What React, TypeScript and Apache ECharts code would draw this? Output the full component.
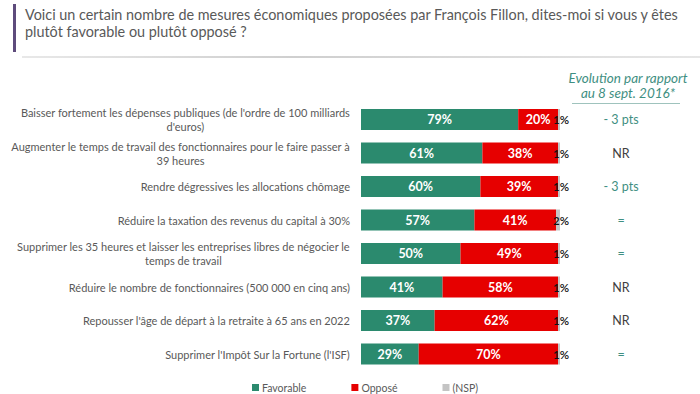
import React, { useEffect, useRef } from "react";
import * as echarts from "echarts";

const categories = [
  "Baisser fortement les dépenses publiques (de l'ordre de 100 milliards\nd'euros)",
  "Augmenter le temps de travail des fonctionnaires pour le faire passer à\n39 heures",
  "Rendre dégressives les allocations chômage",
  "Réduire la taxation des revenus du capital à 30%",
  "Supprimer les 35 heures et laisser les entreprises libres de négocier le\ntemps de travail",
  "Réduire le nombre de fonctionnaires (500 000 en cinq ans)",
  "Repousser l'âge de départ à la retraite à 65 ans en 2022",
  "Supprimer l'Impôt Sur la Fortune (l'ISF)",
];
const favorable = [79, 61, 60, 57, 50, 41, 37, 29];
const oppose = [20, 38, 39, 41, 49, 58, 62, 70];
const nsp = [1, 1, 1, 2, 1, 1, 1, 1];
const evolution = ["- 3 pts", "NR", "- 3 pts", "=", "=", "NR", "NR", "="];
const seriesNames = ["Favorable", "Opposé", "(NSP)"];

const FONT = "Lato, 'Noto Sans', sans-serif";
const GREEN = "#2B8A6E";
const RED = "#E60000";
const GREY = "#C4C4C4";
const TEAL = "#3F8F82";
const TEXT = "#595959";

export default function App() {
  const ref = useRef<HTMLDivElement>(null);
  useEffect(() => {
    if (!ref.current) return;
    const chart = echarts.init(ref.current, undefined, { renderer: "svg" });
    const inside = {
      show: true,
      position: "inside",
      color: "#fff",
      fontWeight: "bold",
      fontSize: 12.5,
      fontFamily: FONT,
      formatter: (p: any) => `${p.value}%`,
    };
    chart.setOption({
      animation: false,
      backgroundColor: "#fff",
      textStyle: { fontFamily: FONT },
      grid: { left: 361, right: 140, top: 102.75, bottom: 23.25, containLabel: false },
      legend: {
        data: seriesNames,
        left: 247,
        top: 377,
        itemWidth: 7,
        itemHeight: 7,
        itemGap: 45,
        icon: "rect",
        textStyle: { fontSize: 10.5, color: TEXT, fontFamily: FONT, padding: [0, 0, 0, -2] },
      },
      xAxis: { type: "value", min: 0, max: 100, show: false },
      yAxis: [
        {
          type: "category",
          data: categories,
          inverse: true,
          axisLine: { show: false },
          axisTick: { show: false },
          axisLabel: {
            margin: 11,
            align: "right",
            formatter: (v: string) =>
              v
                .split("\n")
                .map((l) => `{c|${l}}`)
                .join("\n"),
            rich: {
              c: { align: "center", fontSize: 11, lineHeight: 14, color: TEXT, fontFamily: FONT },
            },
          },
        },
        {
          type: "category",
          data: evolution,
          inverse: true,
          position: "right",
          axisLine: { show: false },
          axisTick: { show: false },
          axisLabel: {
            margin: 61,
            align: "center",
            formatter: (v: string) => (v === "NR" ? `{g|${v}}` : `{t|${v}}`),
            rich: {
              t: { fontSize: 12.5, color: TEAL, fontFamily: FONT },
              g: { fontSize: 12.5, color: "#404040", fontFamily: FONT },
            },
          },
        },
      ],
      series: [
        {
          name: seriesNames[0],
          type: "bar",
          stack: "s",
          data: favorable,
          barWidth: 21,
          itemStyle: { color: GREEN },
          label: inside,
        },
        {
          name: seriesNames[1],
          type: "bar",
          stack: "s",
          data: oppose,
          barWidth: 21,
          itemStyle: { color: RED },
          label: inside,
        },
        {
          name: seriesNames[2],
          type: "bar",
          stack: "s",
          data: nsp,
          barWidth: 21,
          itemStyle: { color: GREY },
          label: {
            show: true,
            position: "right",
            distance: -7,
            color: "#111",
            fontSize: 11.5,
            fontWeight: 600,
            fontFamily: FONT,
            formatter: (p: any) => `${p.value}%`,
          },
        },
      ],
      graphic: [
        { type: "rect", shape: { x: 13, y: 4, width: 3, height: 48 }, style: { fill: "#5E4B7C" } },
        {
          type: "rect",
          shape: { x: 22, y: 56, width: 678, height: 2 },
          style: {
            fill: new echarts.graphic.LinearGradient(0, 0, 1, 0, [
              { offset: 0, color: "#e8e8e8" },
              { offset: 0.4, color: "#cfcfcf" },
              { offset: 1, color: "#e6e6e6" },
            ]),
          },
        },
        {
          type: "text",
          x: 25,
          y: 14,
          style: {
            text: "Voici un certain nombre de mesures économiques proposées par François Fillon, dites-moi si vous y êtes",
            fontSize: 14.4,
            fontFamily: FONT,
            fill: TEXT,
            verticalAlign: "middle",
          },
        },
        {
          type: "text",
          x: 25,
          y: 31,
          style: {
            text: "plutôt favorable ou plutôt opposé ?",
            fontSize: 14.4,
            fontFamily: FONT,
            fill: TEXT,
            verticalAlign: "middle",
          },
        },
        {
          type: "text",
          x: 628,
          y: 78,
          style: {
            text: "Evolution par rapport",
            fontSize: 13.5,
            fontStyle: "italic",
            fontFamily: FONT,
            fill: TEAL,
            align: "center",
            verticalAlign: "middle",
          },
        },
        {
          type: "text",
          x: 628,
          y: 93,
          style: {
            text: "au 8 sept. 2016*",
            fontSize: 13.5,
            fontStyle: "italic",
            fontFamily: FONT,
            fill: TEAL,
            align: "center",
            verticalAlign: "middle",
          },
        },
        {
          type: "line",
          shape: { x1: 572, y1: 103.5, x2: 680, y2: 103.5 },
          style: { stroke: "#9fc3bd", lineWidth: 1 },
        },
      ],
    });
    return () => chart.dispose();
  }, []);
  return (
    <div
      ref={ref}
      style={{ position: "fixed", left: 0, top: 0, width: 700, height: 394 }}
    />
  );
}
